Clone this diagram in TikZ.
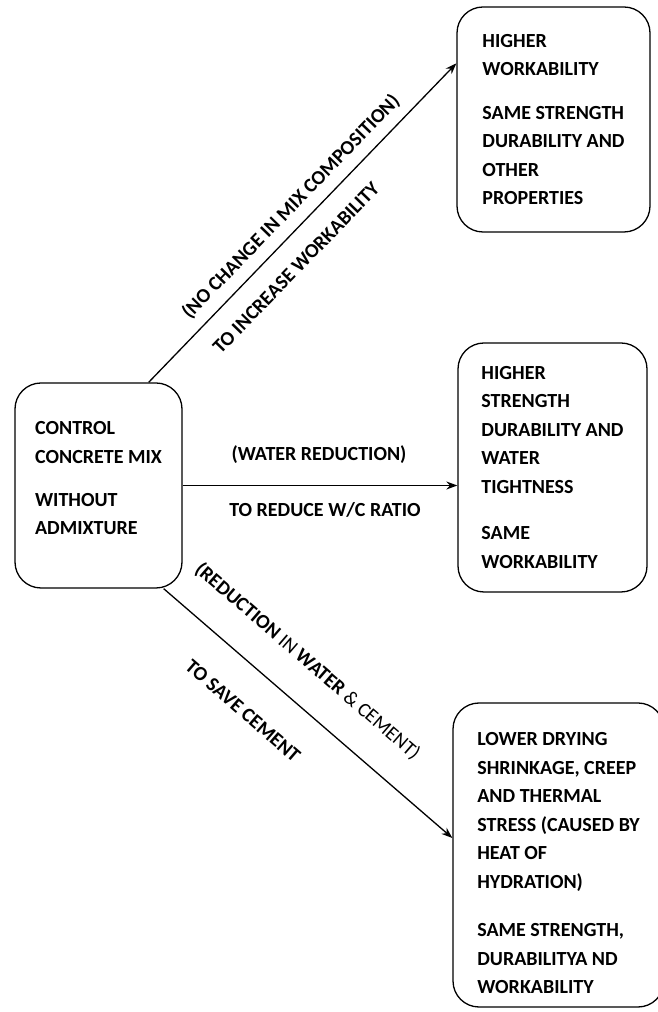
\documentclass[tikz,border=0pt]{standalone}
\usepackage{fontspec}
\setmainfont{Carlito}
\usetikzlibrary{arrows.meta}

\begin{document}
\begin{tikzpicture}[x=1pt,y=1pt,
    caja/.style={draw, line width=1.3pt, rounded corners=26pt, align=left, inner sep=0pt,
        font=\bfseries\fontsize{20}{28.5}\selectfont},
    flecha/.style={line width=1.3pt, -{Stealth[length=11pt,width=8pt]}},
    etiqueta/.style={inner sep=0pt, font=\bfseries\fontsize{20}{24}\selectfont}]

    \useasboundingbox (0,0) rectangle (658,1012);

    % Cajas
    \node[caja, minimum width=167pt, minimum height=205pt] (ctrl) at (98.5,526.5)
        {CONTROL\\CONCRETE MIX\\[14.5pt]WITHOUT\\ADMIXTURE\rule[-15pt]{0pt}{15pt}};
    \node[caja, minimum width=193pt, minimum height=225pt] (work) at (553.5,892.5)
        {HIGHER\\WORKABILITY\\[15pt]SAME STRENGTH\\DURABILITY AND\\OTHER\\PROPERTIES};
    \node[caja, minimum width=189pt, minimum height=249pt] (strength) at (552.5,544.5)
        {HIGHER\\STRENGTH\\DURABILITY AND\\WATER\\TIGHTNESS\\[18pt]SAME\\WORKABILITY};
    \node[caja, minimum width=211pt, minimum height=304pt] (shrink) at (558.5,157)
        {\rule{0pt}{30pt}LOWER DRYING\\SHRINKAGE, CREEP\\AND THERMAL\\STRESS (CAUSED BY\\HEAT OF\\HYDRATION)\\[20pt]SAME STRENGTH,\\DURABILITYA ND\\WORKABILITY};

    % Flechas
    \draw[flecha] ([xshift=-34pt]ctrl.north east) -- ([yshift=-57pt]work.north west);
    \draw[flecha] (ctrl.east) -- (ctrl.east -| strength.west);
    \draw[flecha] ([xshift=-19pt]ctrl.south east) -- ([yshift=17pt]shrink.west);

    % Etiquetas
    \node[etiqueta, rotate=45.9] (nochange) at (291,805) {(NO CHANGE IN MIX COMPOSITION)};
    \node[etiqueta, rotate=45.9] (increase) at (296,744) {TO INCREASE WORKABILITY};
    \node[etiqueta] (waterred) at (319,557) {(WATER REDUCTION)};
    \node[etiqueta] (reducewc) at (325,502) {TO REDUCE W/C RATIO};
    \node[etiqueta, rotate=-40.8] (watercem) at (307.5,350.5)
        {(REDUCTION {\mdseries IN} WATER {\mdseries\& CEMENT)}};
    \node[etiqueta, rotate=-40.8] (savecem) at (243,301) {TO SAVE CEMENT};

\end{tikzpicture}
\end{document}
